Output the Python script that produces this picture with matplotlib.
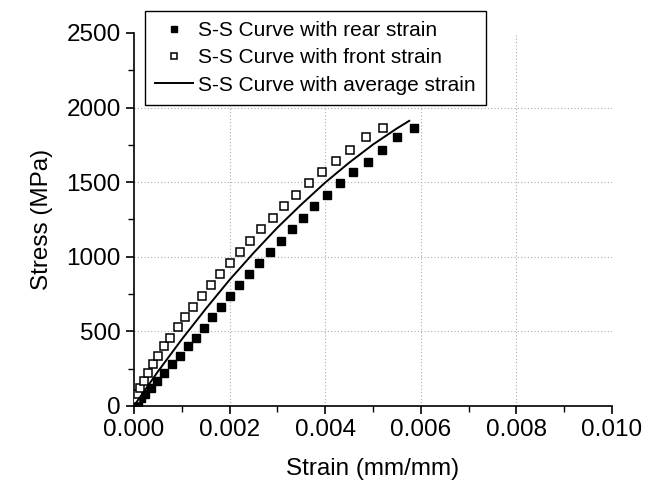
import numpy as np
import matplotlib
matplotlib.use('Agg')
import matplotlib.pyplot as plt
from matplotlib.ticker import MultipleLocator, FormatStrFormatter

plt.rcParams['font.family'] = ['Liberation Sans', 'DejaVu Sans']

##################################################
# data (strain in mm/mm, stress in MPa)

rear_strain = [0.000078, 0.000155, 0.000238, 0.000350, 0.000482, 0.000635, 0.000789,
               0.000963, 0.001130, 0.001290, 0.001464, 0.001631, 0.001820, 0.002001,
               0.002203, 0.002398, 0.002621, 0.002837, 0.003067, 0.003296, 0.003526,
               0.003777, 0.004042, 0.004313, 0.004592, 0.004892, 0.005198, 0.005512,
               0.005860]
rear_stress = [22, 51, 82, 122, 167, 218, 278, 336, 400, 453, 524, 593, 662, 738, 811,
               884, 960, 1031, 1104, 1187, 1260, 1340, 1411, 1491, 1567, 1638, 1718,
               1800, 1862]

front_strain = [0.000036, 0.000078, 0.000134, 0.000203, 0.000294, 0.000398, 0.000496,
                0.000628, 0.000754, 0.000914, 0.001074, 0.001241, 0.001416, 0.001604,
                0.001792, 0.002001, 0.002224, 0.002433, 0.002662, 0.002906, 0.003136,
                0.003387, 0.003659, 0.003930, 0.004230, 0.004529, 0.004850, 0.005205]
front_stress = [44, 82, 122, 167, 218, 278, 336, 400, 456, 527, 596, 662, 740, 811,
                884, 960, 1033, 1107, 1189, 1260, 1340, 1411, 1493, 1567, 1642, 1718,
                1800, 1862]

avg_strain = [0, 0.0005, 0.001, 0.0015, 0.002, 0.0025, 0.003, 0.0035, 0.004, 0.0045,
              0.005, 0.0055, 0.00576]
avg_stress = [0, 230, 446, 650, 845, 1025, 1195, 1350, 1497, 1630, 1752, 1860, 1911]

##################################################
# plot

fig = plt.figure(figsize=(6.58, 4.92), dpi=100)
ax = fig.add_axes([0.2036, 0.175, 0.7264, 0.758])

ax.plot(rear_strain, rear_stress, 's', color='black', markersize=5.5,
        markeredgewidth=1, label='S-S Curve with rear strain', zorder=3)
ax.plot(front_strain, front_stress, 's', markerfacecolor='white',
        markeredgecolor='black', markersize=5.5, markeredgewidth=1.1,
        label='S-S Curve with front strain', zorder=3)
ax.plot(avg_strain, avg_stress, '-', color='black', linewidth=1.4,
        label='S-S Curve with average strain', zorder=4)

ax.set_xlim(0, 0.010)
ax.set_ylim(0, 2500)
ax.xaxis.set_major_locator(MultipleLocator(0.002))
ax.xaxis.set_minor_locator(MultipleLocator(0.001))
ax.xaxis.set_major_formatter(FormatStrFormatter('%.3f'))
ax.yaxis.set_major_locator(MultipleLocator(500))
ax.yaxis.set_minor_locator(MultipleLocator(250))

# dotted grid on the interior major ticks only
for xv in np.arange(0.002, 0.0099, 0.002):
    ax.axvline(xv, color='#aaaaaa', linestyle=(0, (1, 2)), linewidth=0.8, zorder=0)
for yv in np.arange(500, 2499, 500):
    ax.axhline(yv, color='#aaaaaa', linestyle=(0, (1, 2)), linewidth=0.8, zorder=0)

for side in ['top', 'right']:
    ax.spines[side].set_visible(False)
for side in ['left', 'bottom']:
    ax.spines[side].set_linewidth(1.2)

ax.tick_params(which='major', direction='out', length=6, width=1.2, labelsize=17.5)
ax.tick_params(which='minor', direction='out', length=4, width=1.0)

ax.set_xlabel('Strain (mm/mm)', fontsize=17.5, labelpad=12)
ax.set_ylabel('Stress (MPa)', fontsize=17.5, labelpad=10)

leg = ax.legend(loc='upper left', bbox_to_anchor=(145/658, 1 - 10.7/492),
                bbox_transform=fig.transFigure, fontsize=15, frameon=True,
                fancybox=False, borderaxespad=0, numpoints=1, markerscale=0.8,
                handlelength=1.78, handletextpad=0.25, borderpad=0.5,
                labelspacing=0.4)
leg.get_frame().set_edgecolor('black')
leg.get_frame().set_linewidth(1.0)
leg.get_frame().set_alpha(1)
leg.set_zorder(5)

plt.savefig('out.png', dpi=100)
